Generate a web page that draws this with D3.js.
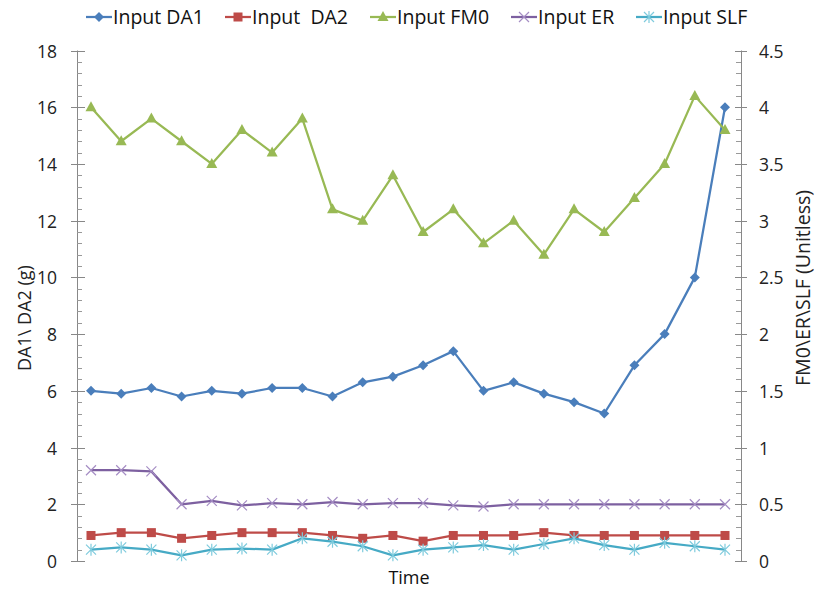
<!DOCTYPE html>
<html><head><meta charset="utf-8">
<script src="https://cdn.jsdelivr.net/npm/d3@7"></script>
<style>body{margin:0;background:#fff}svg{font-family:"Open Sans",sans-serif}</style>
</head><body><svg id="c" width="817" height="589"></svg>
<script>
const seriesNames = ["Input DA1","Input  DA2","Input FM0","Input ER","Input SLF"];
const da1 = [6,5.9,6.1,5.8,6,5.9,6.1,6.1,5.8,6.3,6.5,6.9,7.4,6,6.3,5.9,5.6,5.2,6.9,8,10,16];
const da2 = [0.9,1,1,0.8,0.9,1,1,1,0.9,0.8,0.9,0.7,0.9,0.9,0.9,1,0.9,0.9,0.9,0.9,0.9,0.9];
const fm0 = [4,3.7,3.9,3.7,3.5,3.8,3.6,3.9,3.1,3,3.4,2.9,3.1,2.8,3,2.7,3.1,2.9,3.2,3.5,4.1,3.8];
const er  = [0.8,0.8,0.79,0.5,0.53,0.49,0.51,0.5,0.52,0.5,0.51,0.51,0.49,0.48,0.5,0.5,0.5,0.5,0.5,0.5,0.5,0.5];
const slf = [0.1,0.12,0.1,0.05,0.1,0.11,0.1,0.2,0.17,0.13,0.05,0.1,0.12,0.14,0.1,0.15,0.2,0.14,0.1,0.16,0.13,0.1];
const leftTicks = [0,2,4,6,8,10,12,14,16,18];
const rightTicks = [0,0.5,1,1.5,2,2.5,3,3.5,4,4.5];
const colors = ["#4A7EBB","#BE4B48","#98B954","#7D60A0","#46AAC5"];
const markerColors = ["#4A7EBB","#BE4B48","#98B954","#A58DC4","#7FCBDD"];

const svg = d3.select("#c");
const L = 77, R = 741, T = 50.5, B = 561;
const idx = d3.range(da1.length);
const x = d3.scalePoint().domain(idx).range([91, 725]);
const yL = d3.scaleLinear().domain([0,18]).range([B,T]);
const yR = d3.scaleLinear().domain([0,4.5]).range([B,T]);

// left axis
const gl = svg.append("g");
gl.append("line").attr("x1",L+0.5).attr("x2",L+0.5).attr("y1",T).attr("y2",B).attr("stroke","#888");
d3.range(0,18.01,0.4).forEach(v=>{
  const yy = Math.round(yL(v))+0.5;
  gl.append("line").attr("x1",L).attr("x2",L+5).attr("y1",yy).attr("y2",yy).attr("stroke","#999");
});
leftTicks.forEach(v=>{
  const yy = Math.round(yL(v))+0.5;
  gl.append("line").attr("x1",L-6).attr("x2",L+8).attr("y1",yy).attr("y2",yy).attr("stroke","#888");
  gl.append("text").attr("x",57).attr("y",yy).attr("dy","0.36em").attr("text-anchor","end")
    .attr("font-size",17.5).attr("fill","#222").text(v);
});
// right axis
const gr = svg.append("g");
gr.append("line").attr("x1",R+0.5).attr("x2",R+0.5).attr("y1",T).attr("y2",B).attr("stroke","#888");
d3.range(0,4.501,0.1).forEach(v=>{
  const yy = Math.round(yR(v))+0.5;
  gr.append("line").attr("x1",R-5).attr("x2",R).attr("y1",yy).attr("y2",yy).attr("stroke","#999");
});
rightTicks.forEach(v=>{
  const yy = Math.round(yR(v))+0.5;
  gr.append("line").attr("x1",R-6).attr("x2",R+6).attr("y1",yy).attr("y2",yy).attr("stroke","#888");
  gr.append("text").attr("x",759).attr("y",yy).attr("dy","0.36em").attr("text-anchor","start")
    .attr("font-size",17.5).attr("fill","#222").text(v);
});

// titles
svg.append("text").attr("transform","translate(31,318) rotate(-90)").attr("text-anchor","middle")
  .attr("font-size",18).attr("fill","#222").text("DA1\\ DA2 (g)");
svg.append("text").attr("transform","translate(810,288) rotate(-90)").attr("text-anchor","middle")
  .attr("font-size",19.5).attr("fill","#222")
  .text("FM0\\ER\\SLF (Unitless)");
svg.append("text").attr("x",409).attr("y",584).attr("text-anchor","middle")
  .attr("font-size",18).attr("fill","#111").text("Time");

// markers
function marker(g, type, cx, cy, col){
  if(type===0){ g.append("path").attr("d",`M${cx},${cy-5}L${cx+5},${cy}L${cx},${cy+5}L${cx-5},${cy}Z`).attr("fill",col); }
  else if(type===1){ g.append("rect").attr("x",cx-4.5).attr("y",cy-4.5).attr("width",9).attr("height",9).attr("fill",col); }
  else if(type===2){ g.append("path").attr("d",`M${cx},${cy-6}L${cx+5.5},${cy+4}L${cx-5.5},${cy+4}Z`).attr("fill",col); }
  else if(type===3){ g.append("path").attr("d",`M${cx-5},${cy-5}L${cx+5},${cy+5}M${cx-5},${cy+5}L${cx+5},${cy-5}`).attr("stroke",col).attr("stroke-width",1.2); }
  else { g.append("path").attr("d",`M${cx-5},${cy-5}L${cx+5},${cy+5}M${cx-5},${cy+5}L${cx+5},${cy-5}M${cx},${cy-6}L${cx},${cy+6}`).attr("stroke",col).attr("stroke-width",1.2); }
}

const data = [
  {vals:da1, y:yL},{vals:da2, y:yL},{vals:fm0, y:yR},{vals:er, y:yR},{vals:slf, y:yR}
];
data.forEach((s,i)=>{
  const line = d3.line().x((d,j)=>x(j)).y(d=>s.y(d));
  svg.append("path").datum(s.vals).attr("d",line).attr("fill","none")
    .attr("stroke",colors[i]).attr("stroke-width",2.25).attr("stroke-linejoin","round");
  const g = svg.append("g");
  s.vals.forEach((v,j)=>marker(g,i,x(j),s.y(v),markerColors[i]));
});

// legend
const legX = [86, 225, 370, 511, 636];
const lg = svg.append("g");
seriesNames.forEach((n,i)=>{
  const lx = legX[i], ly = 17;
  lg.append("line").attr("x1",lx).attr("x2",lx+26).attr("y1",ly).attr("y2",ly).attr("stroke",colors[i]).attr("stroke-width",2.25);
  marker(lg,i,lx+13,ly,markerColors[i]);
  lg.append("text").attr("x",lx+27).attr("y",ly).attr("dy","0.36em").attr("font-size",19.5)
    .attr("fill","#111").style("white-space","pre").text(n);
});
</script></body></html>
